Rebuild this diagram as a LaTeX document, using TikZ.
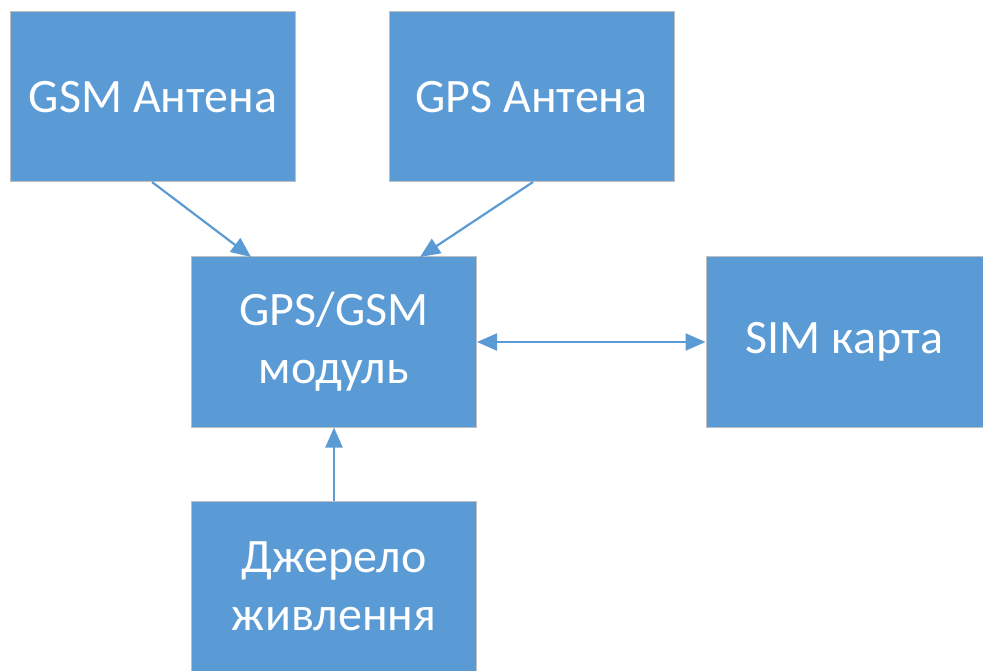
\documentclass[tikz,border=0pt]{standalone}
\usepackage{fontspec}
\setmainfont{Carlito}
\usetikzlibrary{arrows.meta}
\definecolor{boxfill}{HTML}{5B9BD5}
\definecolor{boxline}{HTML}{BFBFBF}
\definecolor{linkcol}{HTML}{5B9BD5}
\begin{document}
\begin{tikzpicture}[x=1pt,y=-1pt,
  block/.style={draw=boxline, line width=1pt, fill=boxfill, text=white,
    minimum width=#1, minimum height=170pt, inner sep=0pt, align=center,
    font=\fontsize{48}{58}\selectfont},
  block/.default=285pt,
  tip/.style={Triangle[length=20pt,width=17pt]},
  link/.style={draw=linkcol, line width=2.2pt, -{Triangle[length=20pt,width=17pt]}},
  dlink/.style={draw=linkcol, line width=2.2pt, {Triangle[length=20pt,width=17pt]}-{Triangle[length=20pt,width=17pt]}}]
\useasboundingbox (0,0) rectangle (983,671);
\node[block] (gsm) at (153,97) {GSM Антена};
\node[block] (gps) at (531.5,97) {GPS Антена};
\node[block] (mod) at (334,342) {GPS/GSM\\модуль};
\node[block=277pt] (sim) at (844.5,342) {SIM карта};
\node[block] (pwr) at (334,586.5) {Джерело\\живлення};
\coordinate (gsmout) at (152,182);
\coordinate (gpsout) at (533,182);
\coordinate (modinA) at (251,257);
\coordinate (modinB) at (420,257);
\draw[link] (gsmout) -- (modinA);
\draw[link] (gpsout) -- (modinB);
\draw[dlink] (mod.east) -- (sim.west);
\draw[link] (pwr.north) -- (mod.south);
\end{tikzpicture}
\end{document}
